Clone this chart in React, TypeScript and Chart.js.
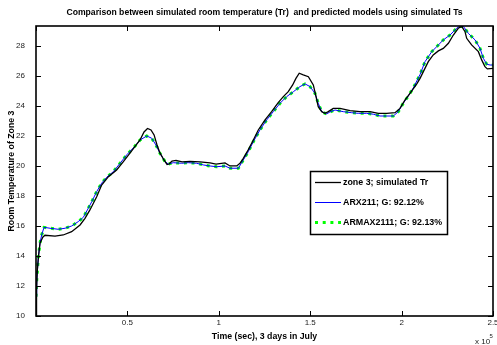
import React, { useEffect, useRef } from 'react';
import { Chart, registerables } from 'chart.js';

Chart.register(...registerables);

// Simulated room temperature of zone 3 (seconds, °C)
const blackTime = [
  0, 300, 700, 1300, 2200, 3700, 4900, 10400, 14900, 19500, 24100, 26800, 29500, 33200, 35900, 39600,
  44100, 47800, 51400, 54200, 56900, 59100, 61000, 62900, 64600, 66200, 67800, 70000, 71700, 72800,
  74400, 76600, 79900, 84200, 89700, 95200, 98500, 103400, 106100, 109800, 111600, 113400, 116100,
  118900, 121600, 125300, 128900, 132500, 135300, 138000, 140400, 142200, 144000, 146200, 149000,
  151700, 153200, 154400, 156300, 158100, 159900, 162600, 166300, 171800, 177200, 182700, 187300,
  191900, 196400, 199100, 201900, 204600, 208300, 210100, 211900, 214600, 217300, 220100, 222800,
  225600, 228300, 231000, 232900, 234700, 235600, 238300, 242000, 243800, 245600, 246900, 250000,
];
const blackTemp = [
  10.0, 11.7, 13.0, 13.9, 14.85, 15.25, 15.38, 15.33, 15.4, 15.62, 16.07, 16.51, 17.07, 17.95, 18.73, 19.29,
  19.73, 20.29, 20.85, 21.3, 21.73, 22.27, 22.5, 22.4, 22.07, 21.4, 20.87, 20.4, 20.1, 20.13,
  20.33, 20.37, 20.27, 20.3, 20.27, 20.2, 20.13, 20.2, 20.0, 20.0, 20.18, 20.51, 21.07,
  21.73, 22.4, 23.07, 23.62, 24.22, 24.62, 24.95, 25.4, 25.84, 26.18, 26.07, 25.95,
  25.4, 24.62, 23.95, 23.62, 23.51, 23.62, 23.84, 23.84, 23.69, 23.62, 23.62, 23.51,
  23.51, 23.55, 23.84, 24.4, 24.84, 25.47, 25.84, 26.29, 26.95, 27.4, 27.67, 27.84,
  28.18, 28.73, 29.18, 29.3, 28.95, 28.51, 28.07, 27.62, 27.07, 26.62, 26.47, 26.5,
];

// Model predictions (seconds, °C)
const modelTime = [
  0, 400, 1300, 2200, 3100, 4400, 7700, 12200, 15900, 19500, 23100, 25900, 28100, 30500, 33200, 35900,
  38700, 42300, 46000, 49700, 54200, 56900, 60600, 63300, 65600, 67800, 70600, 72400, 75100, 79700,
  83300, 87900, 91500, 95200, 98900, 103400, 106100, 110700, 113400, 116100, 118900, 122500, 126200,
  129800, 133500, 137100, 140800, 144400, 147200, 149900, 152600, 154400, 156300, 159000, 160800,
  163600, 168100, 172700, 176300, 180900, 184500, 188200, 191800, 195500, 198200, 200900, 203700,
  206400, 210100, 212800, 216500, 219200, 222800, 226500, 230100, 231600, 233800, 236500, 240200,
  242900, 244700, 246600, 248400, 250000,
];
const arxTemp = [
  11.29, 12.4, 13.95, 14.87, 15.4, 15.91, 15.85, 15.78, 15.85, 16.0, 16.29, 16.58, 17.07, 17.62, 18.29, 18.85,
  19.25, 19.62, 20.18, 20.75, 21.33, 21.73, 22.0, 21.85, 21.4, 20.85, 20.29, 20.13, 20.22, 20.18,
  20.22, 20.18, 20.07, 20.0, 19.95, 20.0, 19.85, 19.85, 20.4, 20.95, 21.62, 22.4, 23.07,
  23.62, 24.18, 24.62, 24.95, 25.29, 25.47, 25.29, 24.85, 24.18, 23.62, 23.47, 23.6,
  23.73, 23.62, 23.55, 23.51, 23.51, 23.45, 23.33, 23.33, 23.33, 23.62, 24.18, 24.67,
  25.2, 26.1, 26.95, 27.62, 27.95, 28.4, 28.73, 29.18, 29.3, 29.3, 28.84, 28.4,
  27.84, 27.18, 26.78, 26.73, 26.73,
];
const armaxTemp = [
  11.29, 12.4, 13.95, 14.87, 15.4, 15.91, 15.85, 15.78, 15.85, 16.0, 16.29, 16.58, 17.07, 17.62, 18.29, 18.85,
  19.25, 19.62, 20.18, 20.75, 21.33, 21.73, 22.0, 21.85, 21.4, 20.85, 20.29, 20.13, 20.22, 20.18,
  20.22, 20.18, 20.07, 20.0, 19.95, 20.0, 19.85, 19.85, 20.4, 20.95, 21.62, 22.4, 23.07,
  23.62, 24.18, 24.62, 24.95, 25.29, 25.47, 25.29, 24.85, 24.18, 23.62, 23.47, 23.6,
  23.73, 23.62, 23.55, 23.51, 23.51, 23.45, 23.33, 23.33, 23.33, 23.62, 24.18, 24.67,
  25.2, 26.1, 26.95, 27.62, 27.95, 28.4, 28.73, 29.18, 29.3, 29.3, 28.84, 28.4,
  27.84, 27.18, 26.78, 26.73, 26.73,
];

const xTicks = [0, 50000, 100000, 150000, 200000, 250000];
const yTicks = [10, 12, 14, 16, 18, 20, 22, 24, 26, 28];
const seriesNames = ['zone 3; simulated Tr', 'ARX211; G: 92.12%', 'ARMAX2111; G: 92.13%'];
const chartTitle = 'Comparison between simulated room temperature (Tr)  and predicted models using simulated Ts';
const xAxisTitle = 'Time (sec), 3 days in July';
const yAxisTitle = 'Room Temperature of Zone 3';

const X_MIN = 0;
const X_MAX = 250000;
const Y_MIN = 10;
const Y_MAX = 29.33;

const FONT = '"Liberation Sans", Arial, sans-serif';

const toPoints = (xs: number[], ys: number[]) => xs.map((x, i) => ({ x, y: ys[i] }));

// Frame, inward tick marks, titles, exponent note and in-plot legend
const decorations = {
  id: 'decorations',
  afterDraw(chart: any) {
    const { ctx, chartArea: a, scales } = chart;
    const xs = scales.x;
    const ys = scales.y;
    ctx.save();

    // tick marks pointing into the plot, mirrored on all four sides
    ctx.strokeStyle = '#000';
    ctx.lineWidth = 1;
    const tl = 5;
    xTicks.forEach((v) => {
      const px = Math.round(xs.getPixelForValue(v)) + 0.5;
      ctx.beginPath();
      ctx.moveTo(px, a.bottom);
      ctx.lineTo(px, a.bottom - tl);
      ctx.moveTo(px, a.top);
      ctx.lineTo(px, a.top + tl);
      ctx.stroke();
    });
    yTicks.forEach((v) => {
      const py = Math.round(ys.getPixelForValue(v)) + 0.5;
      ctx.beginPath();
      ctx.moveTo(a.left, py);
      ctx.lineTo(a.left + tl, py);
      ctx.moveTo(a.right, py);
      ctx.lineTo(a.right - tl, py);
      ctx.stroke();
    });

    // axes box
    ctx.lineWidth = 1.6;
    ctx.strokeRect(a.left, a.top, a.right - a.left, a.bottom - a.top);

    const cx = (a.left + a.right) / 2;
    const cy = (a.top + a.bottom) / 2;
    ctx.fillStyle = '#000';
    ctx.textBaseline = 'middle';
    ctx.textAlign = 'center';

    ctx.font = `bold 8.65px ${FONT}`;
    ctx.fillText(chartTitle, cx, 13);

    ctx.font = `bold 8.75px ${FONT}`;
    ctx.fillText(xAxisTitle, cx, 337);

    ctx.save();
    ctx.translate(12, cy);
    ctx.rotate(-Math.PI / 2);
    ctx.fillText(yAxisTitle, 0, 0);
    ctx.restore();

    // scale exponent for the time axis
    ctx.fillStyle = '#222';
    ctx.textAlign = 'left';
    ctx.font = `8px ${FONT}`;
    ctx.fillText('x 10', 475, 342);
    ctx.font = `6px ${FONT}`;
    ctx.fillText('5', 489.5, 336.5);

    // legend
    const box = { l: 310.5, t: 171.5, r: 447.5, b: 234.5 };
    ctx.fillStyle = '#fff';
    ctx.fillRect(box.l, box.t, box.r - box.l, box.b - box.t);
    ctx.strokeStyle = '#000';
    ctx.lineWidth = 1.5;
    ctx.strokeRect(box.l, box.t, box.r - box.l, box.b - box.t);

    const rows = [182.5, 202.5, 222.5];
    chart.data.datasets.forEach((ds: any, i: number) => {
      const y = rows[i];
      ctx.save();
      ctx.strokeStyle = ds.borderColor;
      ctx.lineWidth = ds.borderWidth;
      ctx.setLineDash(ds.borderDash || []);
      ctx.beginPath();
      ctx.moveTo(315, y);
      ctx.lineTo(341, y);
      ctx.stroke();
      ctx.restore();
      ctx.fillStyle = '#000';
      ctx.font = `bold 8.9px ${FONT}`;
      ctx.textAlign = 'left';
      ctx.textBaseline = 'middle';
      ctx.fillText(seriesNames[i], 343, y);
    });

    ctx.restore();
  },
};

export default function App() {
  const canvasRef = useRef<HTMLCanvasElement | null>(null);

  useEffect(() => {
    document.body.style.margin = '0';
    const canvas = canvasRef.current;
    if (!canvas) return;

    const chart = new Chart(canvas, {
      type: 'line',
      data: {
        datasets: [
          {
            label: seriesNames[0],
            data: toPoints(blackTime, blackTemp),
            borderColor: '#000000',
            borderWidth: 1.3,
            pointRadius: 0,
            tension: 0,
          },
          {
            label: seriesNames[1],
            data: toPoints(modelTime, arxTemp),
            borderColor: '#0000ff',
            borderWidth: 1,
            pointRadius: 0,
            tension: 0,
          },
          {
            label: seriesNames[2],
            data: toPoints(modelTime, armaxTemp),
            borderColor: '#00ff00',
            borderWidth: 3,
            borderDash: [3, 4.7],
            pointRadius: 0,
            tension: 0,
          },
        ],
      },
      options: {
        responsive: false,
        animation: false,
        devicePixelRatio: 1,
        layout: { padding: { left: 0, right: 4, top: 26, bottom: 0 } },
        plugins: {
          legend: { display: false },
          title: { display: false },
          tooltip: { enabled: false },
        },
        scales: {
          x: {
            type: 'linear',
            min: X_MIN,
            max: X_MAX,
            grid: { display: false },
            border: { display: false },
            afterBuildTicks: (scale: any) => {
              scale.ticks = xTicks.map((value) => ({ value }));
            },
            afterFit: (scale: any) => {
              scale.height = 29;
            },
            ticks: {
              padding: -6,
              color: '#222',
              font: { family: FONT, size: 8 },
              maxRotation: 0,
              autoSkip: false,
              callback: (v: any) => (Number(v) === 0 ? '' : String(Number(v) / 100000)),
            },
          },
          y: {
            type: 'linear',
            min: Y_MIN,
            max: Y_MAX,
            grid: { display: false },
            border: { display: false },
            afterBuildTicks: (scale: any) => {
              scale.ticks = yTicks.map((value) => ({ value }));
            },
            afterFit: (scale: any) => {
              scale.width = 36;
            },
            ticks: {
              padding: 3,
              color: '#222',
              font: { family: FONT, size: 8 },
              autoSkip: false,
              callback: (v: any) => String(v),
            },
          },
        },
      },
      plugins: [decorations],
    });

    return () => chart.destroy();
  }, []);

  return <canvas ref={canvasRef} width={497} height={345} style={{ display: 'block' }} />;
}
